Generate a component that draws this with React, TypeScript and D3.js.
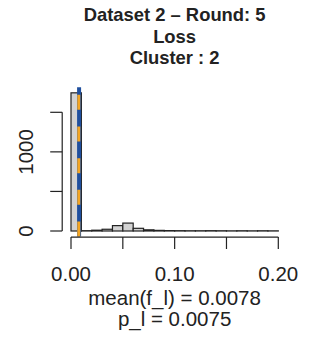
import React from "react";
import * as d3 from "d3";

const binStarts = [0, 0.01, 0.02, 0.03, 0.04, 0.05, 0.06, 0.07, 0.08, 0.09, 0.1, 0.11, 0.12, 0.13, 0.14, 0.15, 0.16, 0.17, 0.18, 0.19];
const binWidth = 0.01;
const counts = [1746, 4, 10, 22, 68, 100, 34, 15, 8, 5, 4, 3, 3, 4, 3, 2, 3, 2, 3, 2];
const xTicks = [0, 0.05, 0.1, 0.15, 0.2];
const xTickLabels = ["0.00", "", "0.10", "", "0.20"];
const yTicks = [0, 500, 1000, 1500];
const yTickLabels = ["0", "", "1000", ""];
const meanValue = 0.0078;
const pValue = 0.0075;
const titleLines = ["Dataset 2 \u2013 Round: 5", "Loss", "Cluster : 2"];
const subLines = ["mean(f_l) = 0.0078", "p_l = 0.0075"];

const FONT = "'Liberation Sans', Arial, Helvetica, sans-serif";

export default function App() {
  const W = 321, H = 342;
  const x = d3.scaleLinear().domain([0, 0.2]).range([71, 278.3]);
  const y = d3.scaleLinear().domain([0, 1500]).range([231, 112.3]);
  const maxC = d3.max(counts) as number;
  const yTop = y(maxC * 1.04);
  const yBot = y(-maxC * 0.04);
  const xLeft = x(-0.2 * 0.04);
  return (
    <svg width={W} height={H} style={{ position: "absolute", left: 0, top: 0 }} fontFamily={FONT}>
      <rect width={W} height={H} fill="white" />
      {titleLines.map((t, i) => (
        <text key={i} x={174.6} y={21 + i * 21.6} textAnchor="middle" fontWeight="bold" fontSize={18.4} fill="#222">
          {t}
        </text>
      ))}
      {binStarts.map((b, i) => (
        <rect
          key={i}
          x={x(b)}
          y={y(counts[i])}
          width={x(b + binWidth) - x(b)}
          height={y(0) - y(counts[i])}
          fill="#d3d3d3"
          stroke="#222"
          strokeWidth={1.2}
        />
      ))}
      <line x1={x(meanValue)} x2={x(meanValue)} y1={yTop} y2={yBot} stroke="#1f4f9e" strokeWidth={4} />
      <line x1={x(pValue)} x2={x(pValue)} y1={yBot} y2={yTop} stroke="#f5a623" strokeWidth={3} strokeDasharray="15 16.7" />
      {/* x axis */}
      <line x1={x(0)} x2={x(0.2)} y1={yBot + 0.5} y2={yBot + 0.5} stroke="#222" strokeWidth={1.2} />
      {xTicks.map((t, i) => (
        <g key={i}>
          <line x1={x(t)} x2={x(t)} y1={yBot + 0.5} y2={yBot + 12.5} stroke="#222" strokeWidth={1.2} />
          {xTickLabels[i] && (
            <text x={x(t)} y={281} textAnchor="middle" fontSize={20.5} fill="#222">
              {xTickLabels[i]}
            </text>
          )}
        </g>
      ))}
      {/* y axis */}
      <line x1={xLeft - 0.5} x2={xLeft - 0.5} y1={y(0)} y2={y(1500)} stroke="#222" strokeWidth={1.2} />
      {yTicks.map((t, i) => (
        <g key={i}>
          <line x1={xLeft - 0.5} x2={xLeft - 12.5} y1={y(t)} y2={y(t)} stroke="#222" strokeWidth={1.2} />
          {yTickLabels[i] && (
            <text x={33} y={y(t)} transform={`rotate(-90, 33, ${y(t)})`} textAnchor="middle" fontSize={20.5} fill="#222">
              {yTickLabels[i]}
            </text>
          )}
        </g>
      ))}
      {subLines.map((t, i) => (
        <text key={i} x={174.6} y={305 + i * 21} textAnchor="middle" fontSize={20.5} fill="#222">
          {t}
        </text>
      ))}
    </svg>
  );
}
